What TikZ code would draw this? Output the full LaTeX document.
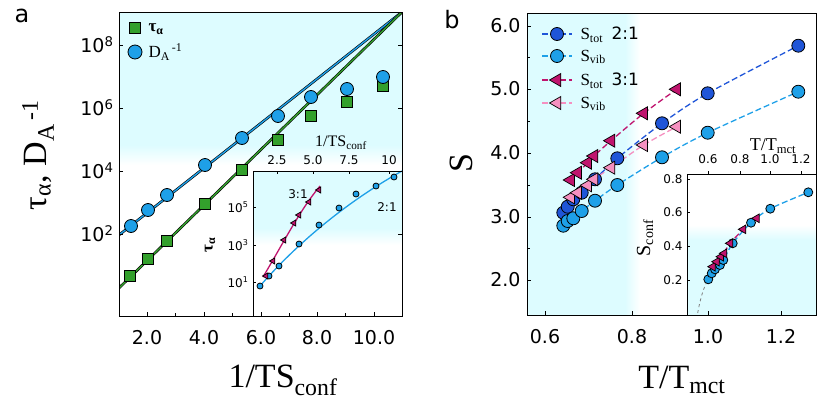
\documentclass[tikz,border=0pt]{standalone}
\usepackage{fontspec}
\setmainfont{Liberation Serif}
\newfontfamily\tickf{DejaVu Sans}
\usetikzlibrary{shapes.geometric}
\definecolor{cy}{HTML}{DDFCFF}
\definecolor{gr}{HTML}{33A02C}
\definecolor{lb}{HTML}{1EA0E8}
\definecolor{db}{HTML}{1F55D8}
\definecolor{mg}{HTML}{C0146E}
\definecolor{pk}{HTML}{F590C0}
\newcommand{\taua}{τ\textsubscript{α}}
\tikzset{
 circ/.style={circle,draw=black,line width=0.8pt,inner sep=0,minimum size=#1},
 sq/.style={rectangle,draw=black,line width=0.8pt,fill=gr,inner sep=0,minimum size=11pt},
 tri/.style={regular polygon,regular polygon sides=3,shape border rotate=90,draw=black,line width=0.7pt,inner sep=0,minimum size=#1},
 tl/.style={font=\tickf\fontsize{19}{19}\selectfont},
 itl/.style={font=\tickf\fontsize{12}{12}\selectfont},
 frame/.style={draw=black,line width=0.9pt},
 tk/.style={line width=0.6pt},
 dl/.style={dash pattern=on 6pt off 3pt,line width=1.3pt},
}
\begin{document}
\begin{tikzpicture}[x=1pt,y=-1pt]
\useasboundingbox (0,0) rectangle (830,405);
% ================= panel a =================
\fill[cy] (119,12) rectangle (402,145);
\shade[top color=cy,bottom color=white] (119,145) rectangle (402,165);
\fill[white] (253,171) rectangle (402,316);
\fill[cy] (253,171) rectangle (402,228);
\shade[top color=cy,bottom color=white] (253,228) rectangle (402,245);
\begin{scope}
\clip (119,12) rectangle (402,316);
\draw[black,line width=2.6pt] (119,235) -- (402,12);
\draw[lb,line width=1.4pt] (119,235) -- (402,12);
\draw[black,line width=2.6pt] (119,288) -- (402,12);
\draw[gr,line width=1.4pt] (119,288) -- (402,12);
\end{scope}
\foreach \x/\y in {130/276,148/259,167/241,205/204,242/170,278/140,311/116,347/102,383/86}
  \node[sq] at (\x,\y) {};
\foreach \x/\y in {131/226,148/210,167/195,205/165,242/138,278/116,311/97,347/89,383/77}
  \node[circ=13pt,fill=lb] at (\x,\y) {};
\draw[frame] (119,12) rectangle (402,316);
% ticks a
\foreach \y/\l in {45/8,108/6,171/4,234/2}{
  \draw[tk] (119,\y) -- (123,\y); \draw[tk] (402,\y) -- (398,\y);
  \node[tl,anchor=east] at (117,\y) {10\textsuperscript{\l}};}
\foreach \x/\l in {147/2.0,204/4.0,261/6.0,317/8.0,374/10.0}{
  \draw[tk] (\x,316) -- (\x,312);
  \node[tl,anchor=north] at (\x,327) {\l};}
\foreach \x in {175,232,289,345} \draw[tk] (\x,316) -- (\x,313);
% legend a
\node[sq] at (135,28) {};
\node[anchor=west,font=\bfseries\fontsize{17}{17}\selectfont] at (145,29) {\taua};
\node[circ=14pt,fill=lb] at (135,52) {};
\node[anchor=west,font=\fontsize{17}{17}\selectfont] at (145,52) {D\textsubscript{A}\textsuperscript{\,-1}};
% inset a
\draw[lb,line width=1.3pt] (260,286) .. controls (300,240) and (350,200) .. (402,171);
\draw[mg,line width=1.3pt] (263,277) .. controls (285,240) and (300,210) .. (320,186);
\foreach \x/\y in {260/286,269/276,279/266,299/244,319/225,339/208,356/194,376/186,394/177}
  \node[circ=6pt,fill=lb] at (\x,\y) {};
\foreach \x/\y in {266/276,273/261,284/240,294/223,299/215,309/202,319/190}
  \node[tri=7pt,fill=mg] at (\x,\y) {};
\draw[frame] (253,171) rectangle (402,316);
\foreach \y/\l in {207/5,245/3,282/1}{
  \draw[tk] (253,\y) -- (256,\y);
  \node[itl,anchor=east] at (252,\y) {10\textsuperscript{\l}};}
\foreach \x/\l in {277/2.5,313/5.0,349/7.5,389/10}{
  \draw[tk] (\x,171) -- (\x,174);
  \node[itl,anchor=south] at (\x,168) {\l};}
\node[font=\fontsize{16}{16}\selectfont] at (341,143) {1/TS\textsubscript{conf}};
\node[font=\bfseries\fontsize{17}{17}\selectfont,rotate=90] at (210,245) {\taua};
\node[itl] at (298,194) {3:1};
\node[itl] at (387,207) {2:1};
% labels a
\node[font=\tickf\fontsize{24}{24}\selectfont] at (22,16) {a};
\node[font=\fontsize{34}{34}\selectfont,rotate=90] at (38,155) {\taua, D\textsubscript{A}\textsuperscript{\,-1}};
\node[font=\fontsize{34}{34}\selectfont] at (283,380) {1/TS\textsubscript{conf}};
% ================= panel b =================
\fill[cy] (527,13) rectangle (625,315);
\shade[left color=cy,right color=white] (625,13) rectangle (640,315);
\fill[white] (687,174) rectangle (816,315);
\fill[cy] (687,240) rectangle (816,315);
\shade[top color=white,bottom color=cy] (687,225) rectangle (816,240);
\draw[db,dl] plot[smooth] coordinates {(563.3,212.7) (567.7,206.7) (573.3,199.3) (581.7,192.7) (595,179.3) (617.3,158.3) (662,123.3) (707.7,93.3) (798.3,45.7)};
\draw[lb,dl] plot[smooth] coordinates {(563.3,225.7) (567.7,221) (573.3,218.3) (581.7,211) (595,200.7) (617.3,185) (662,157.3) (707.7,132.7) (798.3,91.7)};
\draw[mg,dl] plot[smooth] coordinates {(570.7,180) (577.7,172.7) (587.7,162.7) (594,156) (611,140.7) (643.7,113.3) (676.7,89.3)};
\draw[pk,dl] plot[smooth] coordinates {(570.7,197.3) (577.7,192.7) (587.7,185.3) (594,179.3) (611,167.7) (643.7,145) (676.7,126.7)};
\foreach \x/\y in {563.3/212.7,567.7/206.7,573.3/199.3,581.7/192.7,595/179.3,617.3/158.3,662/123.3,707.7/93.3,798.3/45.7}
  \node[circ=13pt,fill=db] at (\x,\y) {};
\foreach \x/\y in {563.3/225.7,567.7/221,573.3/218.3,581.7/211,595/200.7,617.3/185,662/157.3,707.7/132.7,798.3/91.7}
  \node[circ=13pt,fill=lb] at (\x,\y) {};
\foreach \x/\y in {570.7/180,577.7/172.7,587.7/162.7,594/156,611/140.7,643.7/113.3,676.7/89.3}
  \node[tri=15pt,fill=mg] at (\x,\y) {};
\foreach \x/\y in {570.7/197.3,577.7/192.7,587.7/185.3,594/179.3,611/167.7,643.7/145,676.7/126.7}
  \node[tri=15pt,fill=pk] at (\x,\y) {};
% inset b
\fill[white] (687,174) rectangle (816,225);
\draw[gray,dashed,line width=0.8pt] (697.7,313) .. controls (701,295) and (704,287) .. (708.3,279.3);
\draw[lb,dl] plot[smooth] coordinates {(708.3,279.3) (715,269.3) (723.3,260) (732.7,243.3) (751,222.7) (770.3,208.7) (808.3,192.3)};
\draw[mg,dl] plot[smooth] coordinates {(712.7,266.7) (721,256.7) (730.3,243.3) (743.3,229.3) (756.7,218.3)};
\foreach \x/\y in {708.3/279.3,711.7/273.3,715/269.3,720/265,723.3/260,732.7/243.3,751/222.7,770.3/208.7,808.3/192.3}
  \node[circ=9pt,fill=lb] at (\x,\y) {};
\foreach \x/\y in {712.7/266.7,716.7/261.7,721/256.7,724.3/253.3,730.3/243.3,743.3/229.3,756.7/218.3}
  \node[tri=10pt,fill=mg] at (\x,\y) {};
\draw[frame] (687,174) rectangle (816,315);
\foreach \y/\l in {179/0.8,212/0.6,246/0.4,280/0.2}{
  \draw[tk] (687,\y) -- (690,\y);
  \node[itl,anchor=east] at (686,\y) {\l};}
\foreach \x/\l in {708/0.6,740/0.8,770/1.0,801/1.2}{
  \draw[tk] (\x,174) -- (\x,171);
  \node[itl,anchor=south] at (\x,167) {\l};}
\node[font=\fontsize{18}{18}\selectfont] at (773,146) {T/T\textsubscript{mct}};
\node[font=\fontsize{20}{20}\selectfont,rotate=90] at (645,238) {S\textsubscript{conf}};
% main frame b
\draw[frame] (527,13) rectangle (816,315);
\foreach \y/\l in {26/6.0,89/5.0,153/4.0,217/3.0,280/2.0}{
  \draw[tk] (527,\y) -- (531,\y);
  \node[tl,anchor=east] at (524,\y) {\l};}
\foreach \y in {57.5,121,185,248.5} \draw[tk] (527,\y) -- (529.5,\y);
\foreach \x/\l in {545/0.6,632/0.8,708/1.0,781/1.2}{
  \draw[tk] (\x,315) -- (\x,311);
  \node[tl,anchor=north] at (\x,326) {\l};}
% legend b
\foreach \y/\c in {34/db,56/lb,80/mg,103/pk}{
  \draw[\c,dl] (542,\y) -- (572,\y);}
\node[circ=13pt,fill=db] at (557,34) {};
\node[circ=13pt,fill=lb] at (557,56) {};
\node[tri=15pt,fill=mg] at (557,80) {};
\node[tri=15pt,fill=pk] at (557,103) {};
\node[anchor=west,font=\fontsize{17}{17}\selectfont] at (577,35) {S\textsubscript{tot}\ \ {\tickf 2:1}};
\node[anchor=west,font=\fontsize{17}{17}\selectfont] at (577,57) {S\textsubscript{vib}};
\node[anchor=west,font=\fontsize{17}{17}\selectfont] at (577,81) {S\textsubscript{tot}\ \ {\tickf 3:1}};
\node[anchor=west,font=\fontsize{17}{17}\selectfont] at (577,104) {S\textsubscript{vib}};
\node[font=\tickf\fontsize{24}{24}\selectfont] at (452,20) {b};
\node[font=\fontsize{34}{34}\selectfont,rotate=90] at (461,163) {S};
\node[font=\fontsize{34}{34}\selectfont] at (682,380) {T/T\textsubscript{mct}};
\end{tikzpicture}
\end{document}
